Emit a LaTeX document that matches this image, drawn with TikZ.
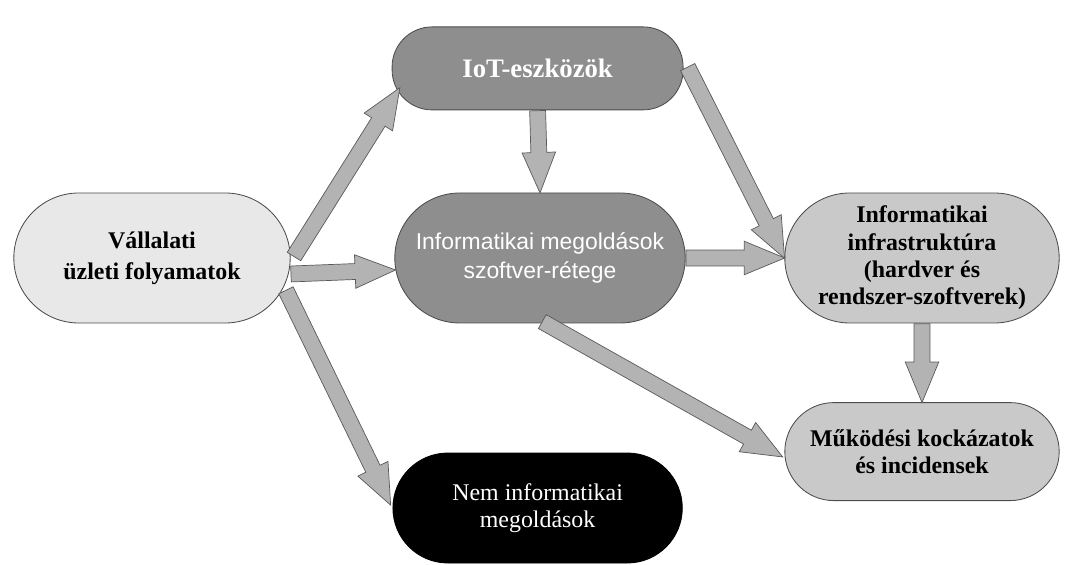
\documentclass[tikz,border=0pt]{standalone}
\usepackage{fontspec}
\setmainfont{Liberation Serif}
\newfontfamily\sansfam{Liberation Sans}
\usetikzlibrary{shapes.misc,shapes.arrows,calc}
\definecolor{boxpale}{HTML}{E8E8E8}
\definecolor{boxlight}{HTML}{C9C9C9}
\definecolor{boxdark}{HTML}{8E8E8E}
\definecolor{arrowfill}{HTML}{B3B3B3}
\tikzset{
  pill/.style={rounded rectangle,draw=black!70,line width=0.6pt,align=center,inner sep=2pt},
  boxtext/.style={font=\bfseries\fontsize{17}{19.5}\selectfont},
  fatarrow/.style={single arrow,draw=black!65,fill=arrowfill,line width=0.5pt,
    inner sep=0.19cm,single arrow head extend=0.22cm,
    single arrow tip angle=45,single arrow head indent=0pt}
}
% block arrow from #1 to #2
\newcommand{\fatconn}[2]{%
  \path let \p1=(#1), \p2=(#2),
    \n1={atan2(\y2-\y1,\x2-\x1)}, \n2={veclen(\x2-\x1,\y2-\y1)} in
    node[fatarrow,anchor=tail,rotate=\n1,minimum height=\n2] at (\p1) {};}
\begin{document}
\begin{tikzpicture}
\useasboundingbox (0,0) rectangle (26.675,-14.125);
% boxes
\node[pill,fill=boxpale,minimum width=7.05cm,minimum height=3.25cm,
  font=\bfseries\fontsize{17}{22}\selectfont]
  (vall) at (3.8,-6.45) {Vállalati\\üzleti folyamatok};
\node[rectangle,rounded corners=1cm,draw=black!70,line width=0.6pt,fill=boxdark,
  minimum width=7.275cm,minimum height=2.075cm,text=white,
  font=\bfseries\fontsize{19}{22}\selectfont]
  (iot) at (13.44,-1.71) {IoT-eszközök};
\node[pill,fill=boxdark,minimum width=7.4cm,minimum height=3.25cm,text=white,
  font=\sansfam\fontsize{16.3}{20}\selectfont]
  (soft) at (13.5,-6.45) {Informatikai megoldások\\szoftver-rétege};
\node[pill,fill=boxlight,minimum width=7cm,minimum height=3.25cm,boxtext]
  (infra) at (23.05,-6.45) {Informatikai\\infrastruktúra\\(hardver és\\rendszer-szoftverek)};
\node[pill,fill=boxlight,minimum width=7cm,minimum height=2.45cm,boxtext]
  (risk) at (23.05,-11.29) {Működési kockázatok\\és incidensek};
\node[pill,draw=black,fill=black,minimum width=7.375cm,minimum height=2.75cm,text=white,
  font=\fontsize{17}{19.5}\selectfont]
  (nonit) at (13.44,-12.7) {Nem informatikai\\megoldások};
% arrows
\fatconn{[shift={(0.08,0.03)}]vall.east}{[shift={(0.2,-0.49)}]iot.west}
\fatconn{[shift={(0,-0.4)}]vall.east}{[shift={(0.02,-0.3)}]soft.west}
\fatconn{[shift={(-0.12,-0.8)}]vall.east}{[shift={(-0.05,0.08)}]nonit.west}
\fatconn{iot.south}{soft.north}
\fatconn{[shift={(0.1,0.04)}]iot.east}{infra.west}
\fatconn{soft.east}{infra.west}
\fatconn{[shift={(0.05,0.05)}]soft.south}{[shift={(-0.05,-0.13)}]risk.west}
\fatconn{infra.south}{risk.north}
\end{tikzpicture}
\end{document}
